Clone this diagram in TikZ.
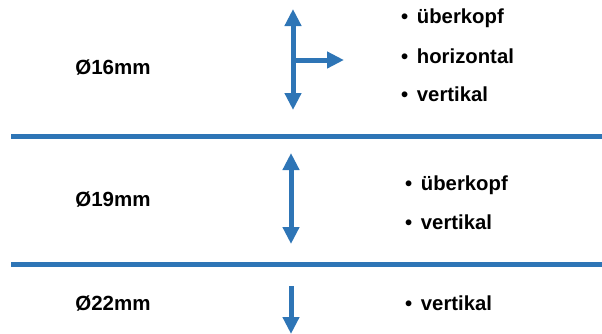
\documentclass[tikz,border=0pt]{standalone}
\usepackage{fontspec}
\setmainfont{Liberation Sans}
\usetikzlibrary{arrows.meta}
\definecolor{rulerblue}{HTML}{2E75B6}
\newcommand{\bul}{•\hspace{3pt} }
\tikzset{
  divider/.style={draw=rulerblue, line width=5pt},
  dirarrow/.style={draw=rulerblue, line width=5pt, -{Triangle[length=17pt,width=16pt]}},
  dirboth/.style={draw=rulerblue, line width=5pt, {Triangle[length=17pt,width=16pt]}-{Triangle[length=17pt,width=16pt]}},
  sizelabel/.style={font=\bfseries\fontsize{20.5}{24}\selectfont, anchor=center, inner sep=0pt},
  item/.style={font=\bfseries\fontsize{20.3}{24}\selectfont, anchor=west, inner sep=0pt},
}
\begin{document}
\begin{tikzpicture}[x=1pt,y=-1pt]
\useasboundingbox (0,0) rectangle (602,333);

% dividers between the three rows
\coordinate (d1l) at (11,136);
\coordinate (d1r) at (602,136);
\coordinate (d2l) at (11,264);
\coordinate (d2r) at (602,264);
\draw[divider] (d1l) -- (d1r);
\draw[divider] (d2l) -- (d2r);

% row 1: 16 mm
\node[sizelabel] (s16) at (113,67) {Ø16mm};
\coordinate (a1t) at (293,9);
\coordinate (a1b) at (293,110);
\coordinate (a1m) at (293,60);
\coordinate (a1r) at (344,60);
\draw[dirboth] (a1b) -- (a1t);
\draw[dirarrow] (a1m) -- (a1r);
\node[item] (r1a) at (401,18) {\bul überkopf};
\node[item] (r1b) at (401,56) {\bul horizontal};
\node[item] (r1c) at (401,94) {\bul vertikal};

% row 2: 19 mm
\node[sizelabel] (s19) at (113,199) {Ø19mm};
\coordinate (a2t) at (291,153);
\coordinate (a2b) at (291,244);
\draw[dirboth] (a2b) -- (a2t);
\node[item] (r2a) at (405,185) {\bul überkopf};
\node[item] (r2b) at (405,222) {\bul vertikal};

% row 3: 22 mm
\node[sizelabel] (s22) at (113,303) {Ø22mm};
\coordinate (a3t) at (291,286);
\coordinate (a3b) at (291,334);
\draw[dirarrow] (a3t) -- (a3b);
\node[item] (r3a) at (405,303) {\bul vertikal};
\end{tikzpicture}
\end{document}
